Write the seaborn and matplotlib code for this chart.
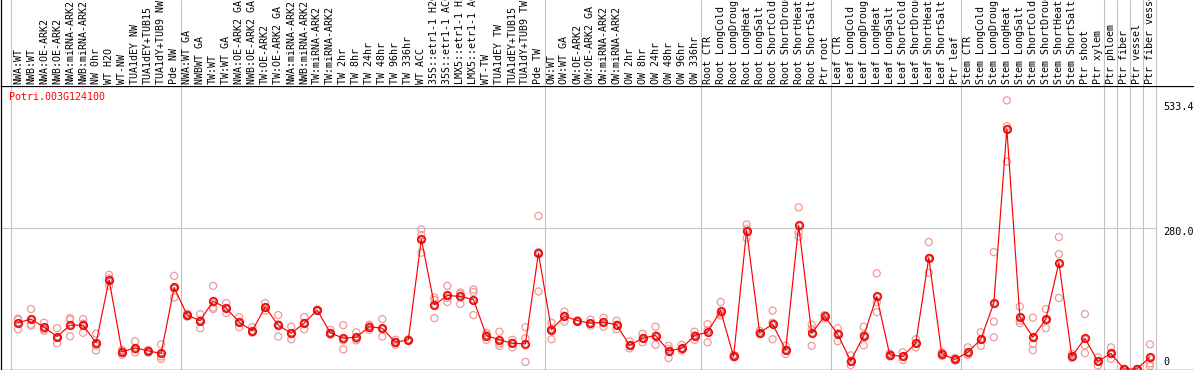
import numpy as np
import pandas as pd
import matplotlib
matplotlib.use("Agg")
import matplotlib.pyplot as plt
import seaborn as sns

# sample names, in plot order
labels = [
    "NWA:WT", "NWB:WT", "NWA:OE-ARK2", "NWB:OE-ARK2", "NWA:miRNA-ARK2", "NWB:miRNA-ARK2",
    "NW 0hr", "WT H2O", "WT-NW", "TUA1dEY NW", "TUA1dEY+TUB15", "TUA1dY+TUB9 NW", "Pde NW",
    "NWA:WT GA", "NWBWT GA", "TW:WT", "TW:WT GA", "NWA:OE-ARK2 GA", "NWB:OE-ARK2 GA",
    "TW:OE-ARK2", "TW:OE-ARK2 GA", "NWA:miRNA-ARK2", "NWB:miRNA-ARK2", "TW:miRNA-ARK2",
    "TW:miRNA-ARK2", "TW 2hr", "TW 8hr", "TW 24hr", "TW 48hr", "TW 96hr", "TW 336hr",
    "WT ACC", "35S::etr1-1 H2O", "35S::etr1-1 ACC", "LMX5::etr1-1 H2O", "LMX5::etr1-1 ACC",
    "WT-TW", "TUA1dEY TW", "TUA1dEY+TUB15", "TUA1dY+TUB9 TW", "Pde TW",
    "OW:WT", "OW:WT GA", "OW:OE-ARK2", "OW:OE-ARK2 GA", "OW:miRNA-ARK2", "OW:miRNA-ARK2",
    "OW 2hr", "OW 8hr", "OW 24hr", "OW 48hr", "OW 96hr", "OW 336hr",
    "Root CTR", "Root LongCold", "Root LongDrought", "Root LongHeat", "Root LongSalt",
    "Root ShortCold", "Root ShortDrought", "Root ShortHeat", "Root ShortSalt", "Ptr root",
    "Leaf CTR", "Leaf LongCold", "Leaf LongDrought", "Leaf LongHeat", "Leaf LongSalt",
    "Leaf ShortCold", "Leaf ShortDrought", "Leaf ShortHeat", "Leaf ShortSalt", "Ptr leaf",
    "Stem CTR", "Stem LongCold", "Stem LongDrought", "Stem LongHeat", "Stem LongSalt",
    "Stem ShortCold", "Stem ShortDrought", "Stem ShortHeat", "Stem ShortSalt", "Ptr shoot",
    "Ptr xylem", "Ptr phloem", "Ptr fiber", "Ptr vessel", "Ptr fiber vessel",
]
group_sizes = [13, 28, 12, 10, 10, 11, 1, 1, 1, 1]

means = [92, 99, 83, 64.5, 87, 87, 52, 177, 34, 42, 36, 31, 162,
         107, 96, 135, 121, 93, 76, 123, 87, 71, 91, 117, 72, 61, 63, 84, 81, 53, 58,
         258, 127, 146, 144, 138, 66.5, 58, 51, 50, 230,
         78, 105, 96, 91, 93, 88, 47, 61, 66.5, 36, 41, 66.5,
         73, 116, 25, 275, 72, 89, 38, 285, 71, 105,
         69, 16, 66, 144, 28, 25, 51, 221, 30, 19,
         33, 59, 131, 477, 103, 63, 99, 211, 25, 61, 15,
         31, 0, 0, 23.6]

rep_a = [98, 119, 92, 81, 101, 99, 70, 187, 38, 55, 38, 49, 185,
         110, 109, 165, 131, 103, 83, 131, 107, 84, 103, 118, 78, 87, 73, 88, 99, 58, 58,
         277, 142, 165, 152, 158, 72, 74, 58, 83, 304,
         92, 114, 96, 98, 102, 96, 55, 70, 84, 46, 48, 74,
         89, 133, 28, 287, 76, 116, 46, 321, 88, 107,
         81, 27, 84, 190, 31, 33, 59, 252, 31, 22,
         43, 73, 232, 533.4, 124, 102, 119, 262, 30, 109, 23,
         43, 0, 0, 49]
rep_b = [79, 88, 76, 51, 98, 72, 46, 165, 28, 33, 33, 25, 142,
         104, 81, 119, 111, 83, 72, 116, 64.5, 59, 79, 116, 68, 39, 57, 78, 64.5, 48, 57,
         231, 101, 133, 129, 107, 58, 46, 43, 61, 154,
         59, 94, 95, 86, 84, 79, 41, 53, 48, 22, 37, 58,
         53, 106, 25, 260, 70, 59, 30, 263, 46, 100,
         55, 8, 47, 133, 25, 18, 43, 191, 26, 18,
         28, 46, 94, 412, 91, 50, 81, 228, 22, 47, 7,
         20, 0, 0, 11]
rep_c = [100, 86, 79, 62, 65, 90, 37, 180, 35, 39, 36, 20, 160,
         107, 97, 122, 121, 93, 74, 122, 89, 70, 91, 117, 71, 57, 60, 85, 80, 53, 59,
         266, 137, 141, 149, 153, 68, 51, 52, 14, 232,
         80, 106, 97, 90, 93, 88, 46, 61, 67, 40, 40, 67,
         77, 110, 23, 278, 71, 92, 37, 272, 79, 107,
         71, 14, 67, 113, 28, 24, 51, 220, 33, 17,
         28, 58, 63, 482, 96, 37, 97, 141, 23, 31.5, 15,
         30, 0, 0, 6]

gene = "Potri.003G124100"
right_ticks = ["533.4", "280.0", "0"]

idx = np.arange(len(labels))
reps = pd.DataFrame({"i": np.tile(idx, 3), "v": rep_a + rep_b + rep_c})

sns.set_style("white")
plt.rcParams["font.family"] = ["DejaVu Sans Mono"]

W, H = 1194, 370
fig = plt.figure(figsize=(W / 100, H / 100), dpi=100)

def box(x0, y0, x1, y1):
    # pixel box, origin top-left -> figure fraction
    return [x0 / W, 1 - y1 / H, (x1 - x0) / W, (y1 - y0) / H]

ax = fig.add_axes(box(1, 85.5, W, 369.5))
hx = fig.add_axes(box(1, 0, W, 85.5))

step = 13.011
x0px = 18
xl = ((1 - x0px) / step, (W - x0px) / step)
ppu = 0.5036  # pixels per unit
ax.set_xlim(*xl)
ax.set_ylim((369 - 369.5) / ppu, (369 - 85.5) / ppu)
hx.set_xlim(*xl)
hx.set_ylim(85.5, 0)

bounds = np.concatenate([[-0.5], np.cumsum(group_sizes) - 0.5])
grid = "#c4c4c4"
for b in bounds:
    ax.axvline(b, color=grid, lw=0.8, zorder=0)
    hx.axvline(b, color=grid, lw=0.8, zorder=0)
ax.hlines(280, xl[0], bounds[-1], color=grid, lw=0.8, zorder=0)

for a in (ax, hx):
    a.set_xticks([])
    a.set_yticks([])
    for s in a.spines.values():
        s.set_visible(False)
for name in ("left", "bottom", "top"):
    ax.spines[name].set_visible(True)
    ax.spines[name].set_color("black")
    ax.spines[name].set_linewidth(0.9)
hx.spines["left"].set_visible(True)
hx.spines["left"].set_color("black")
hx.spines["left"].set_linewidth(0.9)

# replicate points
sns.scatterplot(data=reps, x="i", y="v", ax=ax, marker="o", s=26,
                facecolors="none", edgecolors="#ee9a9a", linewidth=0.9,
                clip_on=False, zorder=2, legend=False)

# mean line
sns.lineplot(x=idx, y=means, ax=ax, color="red", lw=0.85, marker="o",
             markersize=5.4, markerfacecolor="none", markeredgecolor="red",
             markeredgewidth=1.2, clip_on=False, zorder=3)
ax.plot(idx, means, ls="none", marker="o", ms=3.6, mfc="none", mec="#600000",
        mew=0.5, alpha=0.6, clip_on=False, zorder=4)
ax.set_xlabel("")
ax.set_ylabel("")

for i, lab in enumerate(labels):
    hx.text(i, 83.5, lab, rotation=90, ha="center", va="bottom", fontsize=7.2, color="black")

fig.text(9 / W, 1 - 97 / H, gene, color="red", ha="left", va="center", fontsize=7.2)
for lab, py in zip(right_ticks, [107, 232, 362]):
    fig.text(1163 / W, 1 - py / H, lab, ha="left", va="center", fontsize=7.3, color="black")

fig.savefig("out.png", dpi=100)
